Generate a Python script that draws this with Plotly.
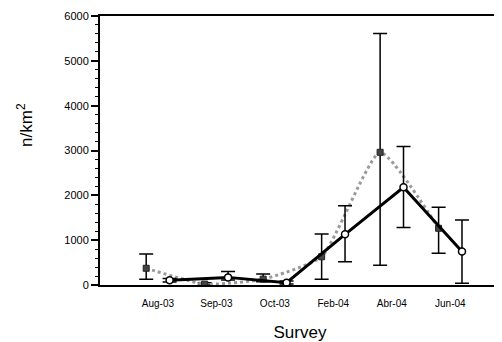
import plotly.graph_objects as go

categories = ["Aug-03", "Sep-03", "Oct-03", "Feb-04", "Abr-04", "Jun-04"]
gray_values = [373, 20, 130, 630, 2960, 1265]
gray_err_plus = [317, 30, 115, 510, 2650, 470]
gray_err_minus = [246, 20, 60, 503, 2520, 558]
black_values = [105, 170, 50, 1130, 2180, 745]
black_err_plus = [40, 130, 40, 640, 910, 705]
black_err_minus = [40, 60, 30, 610, 900, 707]

xi = list(range(len(categories)))
x_gray = [i - 0.2 for i in xi]
x_black = [i + 0.2 for i in xi]

fig = go.Figure()
fig.add_trace(go.Scatter(
    x=x_gray, y=gray_values, mode="lines+markers",
    line=dict(color="#9a9a9a", width=3, dash="dot", shape="spline", smoothing=0.5),
    marker=dict(symbol="square", size=6, color="#444444", line=dict(color="#222222", width=1)),
    error_y=dict(type="data", array=gray_err_plus, arrayminus=gray_err_minus,
                 color="black", thickness=1.5, width=7),
    showlegend=False))
fig.add_trace(go.Scatter(
    x=x_black, y=black_values, mode="lines+markers",
    line=dict(color="black", width=3),
    marker=dict(symbol="circle", size=7, color="white", line=dict(color="black", width=1.5)),
    error_y=dict(type="data", array=black_err_plus, arrayminus=black_err_minus,
                 color="black", thickness=1.5, width=7),
    showlegend=False))

fig.update_layout(
    width=502, height=342,
    margin=dict(l=92, r=10, t=8, b=65, autoexpand=False),
    paper_bgcolor="white", plot_bgcolor="white",
    font=dict(family="Liberation Sans, Arial, sans-serif", color="black"),
    xaxis=dict(
        range=[-0.99, 5.85], tickmode="array", tickvals=xi, ticktext=categories,
        showline=True, linecolor="black", linewidth=2, mirror=True,
        ticks="", showgrid=False, zeroline=False, automargin=False,
        tickfont=dict(size=10), ticklabelstandoff=8,
        title=dict(text="Survey", font=dict(size=17), standoff=18)),
    yaxis=dict(
        range=[0, 6000], tickvals=[0, 1000, 2000, 3000, 4000, 5000, 6000],
        showline=True, linecolor="black", linewidth=2, automargin=False,
        ticks="outside", ticklen=7, tickwidth=1.5, tickcolor="black",
        minor=dict(ticks="outside", ticklen=3, dtick=200, tickcolor="black", tickwidth=1),
        showgrid=False, zeroline=False, tickfont=dict(size=11)),
)
fig.add_annotation(
    text="n/km<sup>2</sup>", xref="paper", yref="paper", x=-0.1875, y=0.595,
    textangle=-90, showarrow=False, font=dict(size=17), xanchor="center", yanchor="middle")

fig.write_html("out.html")
